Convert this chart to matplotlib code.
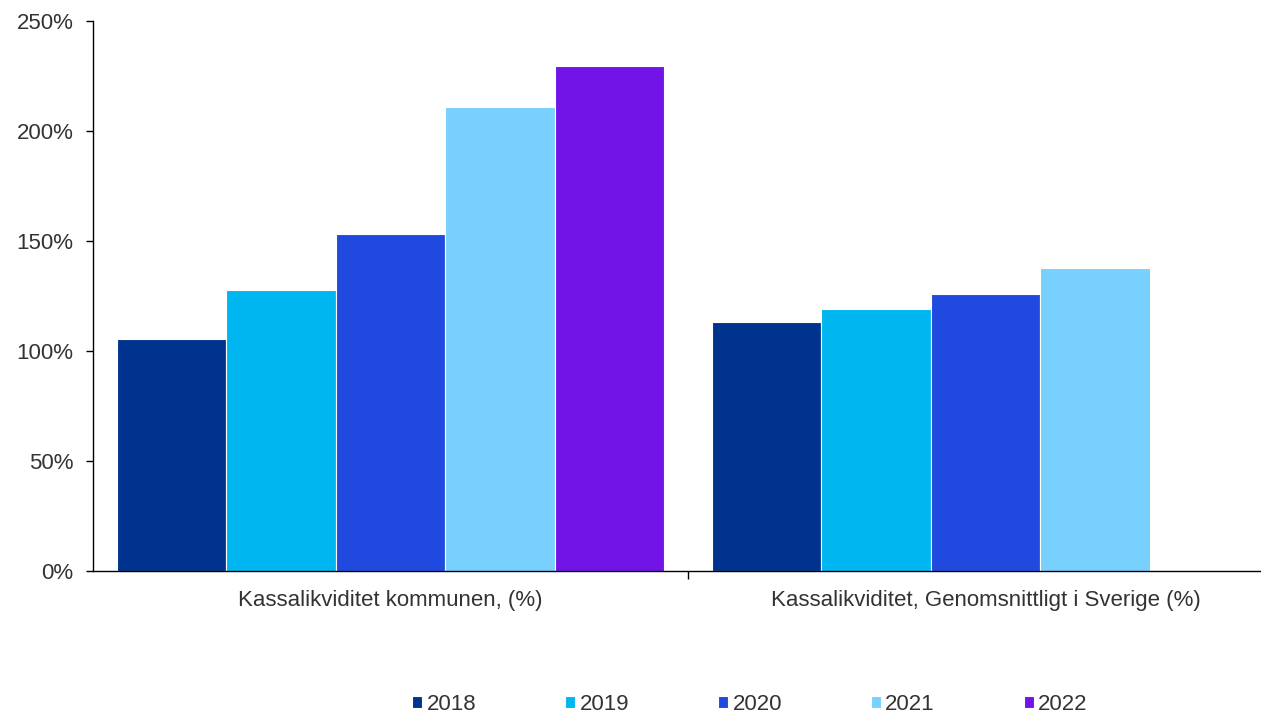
import numpy as np
import matplotlib.pyplot as plt
from matplotlib.ticker import FuncFormatter, FixedLocator

plt.rcParams['font.family'] = ['Liberation Sans', 'DejaVu Sans']

# data
kategorier = ['Kassalikviditet kommunen, (%)', 'Kassalikviditet, Genomsnittligt i Sverige (%)']
ar = ['2018', '2019', '2020', '2021', '2022']
v2018 = [105.5, 113.0]
v2019 = [127.7, 119.0]
v2020 = [153.2, 125.8]
v2021 = [210.9, 137.9]
v2022 = [229.7, np.nan]
serier = [v2018, v2019, v2020, v2021, v2022]
farger = ['#00338D', '#00B6F0', '#2049E0', '#78D0FF', '#7213E8']

fig = plt.figure(figsize=(12.61, 7.15), dpi=100)
ax = fig.add_axes([93/1261, 1-571/715, 1190/1261, 550/715])

x = np.arange(len(kategorier))
bw = 0.184
for i, (s, c, lab) in enumerate(zip(serier, farger, ar)):
    ax.bar(x + (i - 2) * bw, s, bw, color=c, edgecolor='white', linewidth=0.8, label=lab)

ax.set_xlim(-0.5, 1.5)
ax.set_ylim(0, 250)
ax.set_yticks(np.arange(0, 251, 50))
ax.yaxis.set_major_formatter(FuncFormatter(lambda v, p: f'{v:.0f}%'))
ax.set_xticks(x)
ax.set_xticklabels(kategorier)
ax.xaxis.set_minor_locator(FixedLocator([0.5]))
ax.tick_params(axis='x', which='major', length=0, pad=14, labelsize=16, labelcolor='#333333')
ax.tick_params(axis='x', which='minor', length=6, direction='out', width=1)
ax.tick_params(axis='y', length=5, width=1, pad=9, labelsize=16, labelcolor='#333333')

for sp in ['top', 'right']:
    ax.spines[sp].set_visible(False)
for sp in ['left', 'bottom']:
    ax.spines[sp].set_linewidth(1)

ax.legend(loc='center', bbox_to_anchor=(750/1261, 1-704/715), bbox_transform=fig.transFigure,
          ncol=5, frameon=False, fontsize=16, handlelength=0.45, handleheight=0.45,
          handletextpad=0.2, columnspacing=4.0, labelcolor='#333333')

fig.savefig('out.png', dpi=100)
